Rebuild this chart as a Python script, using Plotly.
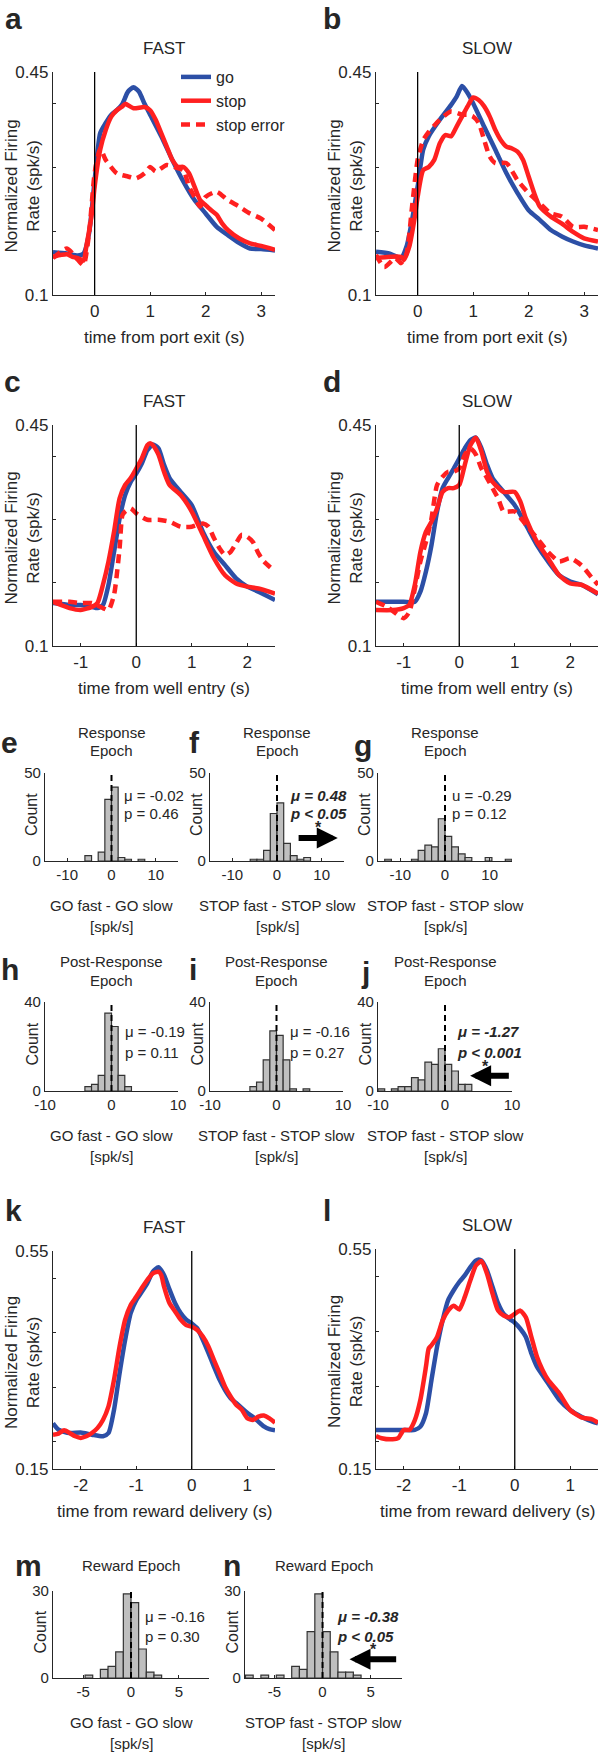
import plotly.graph_objects as go

W, H = 610, 1752
BLUE = "#2c4fa6"
RED = "#ff2020"
AX = "#262626"
BARC = "#bfbfbf"
FONT = "Liberation Sans, Arial, Helvetica, sans-serif"

# ---------------- data: firing-rate curves ----------------
# a: FAST, time from port exit
a_go_t = [-0.75,-0.5,-0.3,-0.2,-0.1,0,0.1,0.2,0.3,0.4,0.5,0.6,0.7,0.8,0.9,1.0,1.2,1.4,1.6,1.8,2.0,2.2,2.4,2.6,2.8,3.0,3.25]
a_go_v = [0.167,0.165,0.162,0.165,0.197,0.28,0.354,0.37,0.383,0.39,0.40,0.419,0.426,0.419,0.40,0.383,0.349,0.312,0.278,0.249,0.228,0.207,0.194,0.182,0.173,0.172,0.17]
a_stop_t = [-0.75,-0.6,-0.5,-0.4,-0.3,-0.2,-0.15,-0.05,0,0.1,0.2,0.3,0.4,0.5,0.55,0.7,0.9,1.0,1.1,1.2,1.3,1.4,1.5,1.6,1.7,1.8,1.9,2.0,2.1,2.2,2.3,2.4,2.6,2.8,3.0,3.25]
a_stop_v = [0.16,0.163,0.164,0.16,0.158,0.154,0.176,0.228,0.27,0.328,0.359,0.38,0.39,0.396,0.40,0.393,0.395,0.39,0.375,0.354,0.333,0.312,0.301,0.301,0.291,0.27,0.249,0.241,0.233,0.226,0.212,0.202,0.189,0.181,0.177,0.171]
a_err_t = [-0.75,-0.5,-0.3,-0.2,-0.1,0,0.1,0.2,0.4,0.6,0.75,0.9,1.0,1.1,1.3,1.5,1.6,1.7,1.8,1.9,2.0,2.2,2.4,2.6,2.8,3.0,3.25]
a_err_v = [0.158,0.173,0.155,0.147,0.197,0.291,0.33,0.312,0.291,0.286,0.283,0.291,0.301,0.294,0.304,0.299,0.296,0.27,0.254,0.239,0.254,0.262,0.249,0.239,0.228,0.22,0.202]

# b: SLOW, time from port exit
b_go_t = [-0.75,-0.5,-0.3,-0.2,-0.1,0,0.1,0.2,0.4,0.6,0.7,0.8,0.9,1.0,1.2,1.4,1.6,1.8,2.0,2.2,2.4,2.6,2.8,3.0,3.25]
b_go_v = [0.168,0.165,0.158,0.176,0.218,0.27,0.328,0.349,0.375,0.398,0.411,0.428,0.417,0.401,0.364,0.328,0.291,0.26,0.233,0.218,0.202,0.192,0.184,0.178,0.173]
b_stop_t = [-0.75,-0.5,-0.3,-0.25,-0.15,-0.05,0,0.1,0.2,0.3,0.4,0.5,0.6,0.7,0.8,0.9,1.0,1.1,1.2,1.3,1.4,1.5,1.6,1.7,1.8,1.9,2.0,2.1,2.2,2.4,2.6,2.8,3.0,3.25]
b_stop_v = [0.158,0.16,0.16,0.155,0.176,0.223,0.254,0.296,0.301,0.312,0.338,0.351,0.349,0.364,0.38,0.396,0.41,0.406,0.396,0.38,0.359,0.343,0.333,0.33,0.325,0.312,0.286,0.26,0.239,0.223,0.212,0.199,0.189,0.184]
b_err_t = [-0.75,-0.6,-0.4,-0.3,-0.2,-0.1,0,0.1,0.2,0.4,0.6,0.8,0.9,1.0,1.1,1.2,1.3,1.4,1.6,1.8,2.0,2.2,2.4,2.6,2.8,3.0,3.25]
b_err_v = [0.163,0.144,0.158,0.15,0.165,0.239,0.312,0.343,0.356,0.375,0.388,0.383,0.383,0.38,0.37,0.343,0.317,0.307,0.307,0.28,0.26,0.244,0.228,0.223,0.207,0.207,0.202]

# c: FAST, time from well entry
c_go_t = [-1.5,-1.2,-1.0,-0.8,-0.7,-0.6,-0.5,-0.4,-0.3,-0.2,-0.1,0,0.1,0.2,0.3,0.4,0.5,0.6,0.8,1.0,1.2,1.4,1.6,1.8,2.0,2.2,2.5]
c_go_v = [0.168,0.165,0.165,0.162,0.16,0.165,0.197,0.249,0.302,0.339,0.36,0.373,0.389,0.41,0.419,0.413,0.387,0.366,0.344,0.323,0.281,0.249,0.228,0.207,0.194,0.186,0.173]
c_stop_t = [-1.5,-1.2,-1.0,-0.8,-0.7,-0.6,-0.5,-0.4,-0.3,-0.2,-0.1,0,0.1,0.2,0.25,0.3,0.4,0.5,0.6,0.8,1.0,1.2,1.4,1.6,1.8,2.0,2.2,2.5]
c_stop_v = [0.17,0.16,0.157,0.162,0.168,0.197,0.234,0.281,0.334,0.355,0.366,0.381,0.397,0.418,0.421,0.418,0.403,0.376,0.355,0.339,0.313,0.276,0.239,0.212,0.199,0.194,0.191,0.183]
c_err_t = [-1.5,-1.2,-1.0,-0.8,-0.6,-0.5,-0.4,-0.3,-0.25,-0.2,-0.1,0,0.2,0.4,0.6,0.8,1.0,1.2,1.3,1.4,1.5,1.6,1.7,1.8,1.9,2.0,2.1,2.2,2.3,2.5]
c_err_v = [0.17,0.17,0.168,0.168,0.16,0.157,0.181,0.255,0.307,0.313,0.318,0.31,0.3,0.3,0.297,0.289,0.289,0.294,0.289,0.271,0.255,0.244,0.249,0.263,0.276,0.273,0.265,0.247,0.234,0.218]

# d: SLOW, time from well entry
d_go_t = [-1.5,-1.2,-1.0,-0.8,-0.7,-0.6,-0.5,-0.4,-0.3,-0.2,-0.1,0,0.1,0.2,0.3,0.4,0.5,0.6,0.8,1.0,1.2,1.4,1.6,1.8,2.0,2.2,2.5]
d_go_v = [0.17,0.17,0.17,0.17,0.186,0.218,0.26,0.313,0.35,0.366,0.381,0.397,0.413,0.426,0.43,0.413,0.387,0.366,0.344,0.323,0.292,0.26,0.234,0.212,0.202,0.197,0.182]
d_stop_t = [-1.5,-1.2,-1.0,-0.9,-0.8,-0.7,-0.6,-0.5,-0.4,-0.3,-0.2,-0.1,0,0.1,0.2,0.3,0.4,0.5,0.6,0.8,1.0,1.1,1.2,1.4,1.6,1.8,2.0,2.2,2.5]
d_stop_v = [0.157,0.157,0.16,0.165,0.197,0.249,0.281,0.297,0.318,0.344,0.35,0.35,0.355,0.387,0.418,0.43,0.408,0.376,0.36,0.344,0.344,0.329,0.302,0.265,0.239,0.212,0.199,0.197,0.183]
d_err_t = [-1.5,-1.3,-1.0,-0.9,-0.8,-0.7,-0.6,-0.5,-0.4,-0.3,-0.2,-0.1,0,0.1,0.2,0.3,0.4,0.5,0.6,0.7,0.8,1.0,1.2,1.4,1.6,1.8,2.0,2.2,2.4,2.5]
d_err_v = [0.17,0.162,0.144,0.154,0.191,0.234,0.265,0.302,0.355,0.368,0.376,0.376,0.381,0.403,0.413,0.403,0.381,0.366,0.35,0.334,0.313,0.313,0.292,0.271,0.249,0.234,0.239,0.228,0.207,0.197]

# k: FAST, time from reward delivery
k_go_t = [-2.5,-2.4,-2.2,-2.0,-1.8,-1.6,-1.5,-1.4,-1.3,-1.2,-1.1,-1.0,-0.9,-0.8,-0.7,-0.6,-0.5,-0.4,-0.3,-0.2,-0.1,0,0.1,0.2,0.3,0.4,0.5,0.6,0.7,0.8,0.9,1.0,1.1,1.2,1.3,1.4,1.5]
k_go_v = [0.234,0.222,0.216,0.217,0.213,0.21,0.216,0.259,0.326,0.387,0.436,0.46,0.475,0.491,0.512,0.52,0.506,0.479,0.454,0.436,0.424,0.417,0.408,0.387,0.363,0.338,0.314,0.295,0.28,0.271,0.262,0.253,0.246,0.237,0.228,0.223,0.221]
k_stop_t = [-2.5,-2.4,-2.3,-2.2,-2.1,-2.0,-1.9,-1.8,-1.7,-1.6,-1.5,-1.4,-1.3,-1.2,-1.1,-1.0,-0.9,-0.8,-0.7,-0.6,-0.55,-0.5,-0.4,-0.3,-0.2,-0.1,0,0.1,0.2,0.3,0.4,0.5,0.6,0.7,0.8,0.9,1.0,1.1,1.2,1.3,1.4,1.5]
k_stop_v = [0.213,0.215,0.221,0.216,0.21,0.207,0.21,0.216,0.225,0.24,0.265,0.314,0.375,0.424,0.451,0.466,0.482,0.497,0.509,0.512,0.506,0.485,0.454,0.439,0.424,0.414,0.411,0.405,0.393,0.375,0.35,0.326,0.301,0.283,0.268,0.259,0.243,0.24,0.246,0.248,0.243,0.235]

# l: SLOW, time from reward delivery
l_go_t = [-2.5,-2.2,-2.0,-1.8,-1.7,-1.6,-1.5,-1.4,-1.3,-1.2,-1.1,-1.0,-0.9,-0.8,-0.7,-0.65,-0.6,-0.5,-0.4,-0.3,-0.2,-0.1,0,0.1,0.2,0.3,0.4,0.6,0.8,1.0,1.2,1.4,1.5]
l_go_v = [0.221,0.221,0.221,0.221,0.227,0.251,0.312,0.372,0.42,0.457,0.475,0.49,0.502,0.517,0.529,0.531,0.529,0.511,0.481,0.451,0.432,0.423,0.416,0.405,0.39,0.36,0.336,0.306,0.276,0.257,0.245,0.236,0.233]
l_stop_t = [-2.5,-2.4,-2.2,-2.1,-2.0,-1.9,-1.8,-1.7,-1.6,-1.55,-1.5,-1.4,-1.3,-1.2,-1.1,-1.0,-0.9,-0.8,-0.7,-0.6,-0.5,-0.4,-0.3,-0.2,-0.1,0,0.1,0.2,0.3,0.4,0.5,0.6,0.8,1.0,1.2,1.4,1.5]
l_stop_v = [0.21,0.206,0.204,0.206,0.221,0.221,0.239,0.276,0.336,0.369,0.375,0.39,0.42,0.438,0.447,0.44,0.463,0.493,0.52,0.528,0.505,0.469,0.438,0.429,0.426,0.432,0.438,0.426,0.39,0.354,0.33,0.312,0.288,0.257,0.244,0.24,0.234]

# ---------------- data: histograms (bin centres, counts) ----------------
e_x = [-5.25,-2.25,-0.75,0.75,2.25,3.75,6.75]
e_n = [3,5,35,42,2,1,1]
f_x = [-5.25,-3.75,-2.25,-0.75,0.75,2.25,3.75,5.25,6.75]
f_n = [1,1,6,27,33,10,3,1,2]
g_x = [-12.75,-6.75,-5.25,-3.75,-2.25,-0.75,0.75,2.25,3.75,5.25,9.75,14.25]
g_n = [1,1,6,9,8,24,14,8,4,2,2,1]
h_x = [-3.5,-2.5,-1.5,-0.5,0.5,1.5,2.5]
h_n = [2,3,7,35,29,7,2]
i_x = [-3.5,-2.5,-1.5,-0.5,0.5,1.5,2.5,4.5]
i_n = [2,4,14,27,25,14,1,1]
j_x = [-9.5,-7.5,-6.5,-5.5,-4.5,-3.5,-2.5,-1.5,-0.5,0.5,1.5,2.5,3.5]
j_n = [1,1,2,2,6,5,13,12,19,12,9,3,3]
m_x = [-4.4,-2.8,-2.0,-1.2,-0.4,0.4,1.2,2.0,2.8]
m_n = [1,3,4,9,29,26,10,2,1]
n_x = [-7.6,-6.0,-4.4,-2.8,-2.0,-1.2,-0.4,0.4,1.2,2.0,2.8,3.6]
n_n = [1,1,1,4,3,16,29,16,9,2,2,1]

hist_stats = {
    "e": ("μ = -0.02", "p = 0.46", False),
    "f": ("μ = 0.48", "p < 0.05", True),
    "g": ("u = -0.29", "p = 0.12", False),
    "h": ("μ = -0.19", "p = 0.11", False),
    "i": ("μ = -0.16", "p = 0.27", False),
    "j": ("μ = -1.27", "p < 0.001", True),
    "m": ("μ = -0.16", "p = 0.30", False),
    "n": ("μ = -0.38", "p < 0.05", True),
}

# ---------------- layout helpers ----------------
fig = go.Figure()
ann, shapes = [], []
layout = dict(width=W, height=H, margin=dict(l=0, r=0, t=0, b=0, autoexpand=False),
              paper_bgcolor="white", plot_bgcolor="white",
              font=dict(family=FONT, color=AX), showlegend=True)


def P(x, y):
    return x / W, 1 - y / H


def text(x, y, s, size, xanchor="center", yanchor="middle", angle=0):
    xx, yy = P(x, y)
    ann.append(dict(x=xx, y=yy, xref="paper", yref="paper", text=s, showarrow=False,
                    textangle=angle, xanchor=xanchor, yanchor=yanchor,
                    font=dict(size=size, color=AX, family=FONT)))


def axes(idx, box, xr, yr, xtv, ytv, ytt, fs):
    x0, y0, x1, y1 = box
    sfx = "" if idx == 1 else str(idx)
    common = dict(showline=True, linecolor=AX, linewidth=1.3, ticks="inside", ticklen=3,
                  tickwidth=1, tickcolor=AX, showgrid=False, zeroline=False, automargin=False,
                  tickfont=dict(size=fs, color=AX, family=FONT), fixedrange=True)
    layout["xaxis" + sfx] = dict(domain=[x0 / W, x1 / W], range=xr, anchor="y" + sfx,
                                 tickvals=xtv, ticktext=[("%g" % v) for v in xtv], **common)
    layout["yaxis" + sfx] = dict(domain=[1 - y1 / H, 1 - y0 / H], range=yr, anchor="x" + sfx,
                                 tickvals=ytv, ticktext=ytt, **common)
    return "x" + sfx, "y" + sfx


def vline(xa, ya, dash=None, width=1.3):
    shapes.append(dict(type="line", xref=xa, yref=ya + " domain", x0=0, x1=0, y0=0, y1=1,
                       line=dict(color="black", width=width, dash=dash), layer="above"))


# ---------------- curve panels ----------------
curve_panels = [
    ("a", (53, 72, 275, 295), [-0.75, 3.25], [0, 1, 2, 3], [0.1, 0.45], "FAST", "time from port exit (s)",
     [(a_go_t, a_go_v), (a_stop_t, a_stop_v), (a_err_t, a_err_v)]),
    ("b", (376, 72, 598, 295), [-0.75, 3.25], [0, 1, 2, 3], [0.1, 0.45], "SLOW", "time from port exit (s)",
     [(b_go_t, b_go_v), (b_stop_t, b_stop_v), (b_err_t, b_err_v)]),
    ("c", (53, 425, 275, 646), [-1.5, 2.5], [-1, 0, 1, 2], [0.1, 0.45], "FAST", "time from well entry (s)",
     [(c_go_t, c_go_v), (c_stop_t, c_stop_v), (c_err_t, c_err_v)]),
    ("d", (376, 425, 598, 646), [-1.5, 2.5], [-1, 0, 1, 2], [0.1, 0.45], "SLOW", "time from well entry (s)",
     [(d_go_t, d_go_v), (d_stop_t, d_stop_v), (d_err_t, d_err_v)]),
    ("k", (53, 1251, 275, 1469), [-2.5, 1.5], [-2, -1, 0, 1], [0.15, 0.55], "FAST", "time from reward delivery (s)",
     [(k_go_t, k_go_v), (k_stop_t, k_stop_v)]),
    ("l", (376, 1249, 598, 1469), [-2.5, 1.5], [-2, -1, 0, 1], [0.15, 0.55], "SLOW", "time from reward delivery (s)",
     [(l_go_t, l_go_v), (l_stop_t, l_stop_v)]),
]

names = ["go", "stop", "stop error"]
styles = [dict(color=BLUE, width=4.5), dict(color=RED, width=4.5), dict(color=RED, width=4.5, dash="9px,6px")]

idx = 1
for (let, box, xr, xtv, yr, title, xlabel, series) in curve_panels:
    if yr[0] == 0.1:
        ytv = [0.1, 0.2, 0.3, 0.4, 0.45]
        ytt = ["0.1", "", "", "", "0.45"]
    else:
        ytv = [0.15, 0.2, 0.3, 0.4, 0.5, 0.55]
        ytt = ["0.15", "", "", "", "", "0.55"]
    xa, ya = axes(idx, box, xr, yr, xtv, ytv, ytt, 17)
    for s_i, (t, v) in enumerate(series):
        fig.add_trace(go.Scatter(x=t, y=v, mode="lines", line=dict(**styles[s_i], shape="spline", smoothing=0.6),
                                 name=names[s_i], showlegend=(let == "a"), xaxis=xa, yaxis=ya,
                                 hoverinfo="skip"))
    vline(xa, ya)
    x0, y0, x1, y1 = box
    text((x0 + x1) / 2, y0 - 24, title, 17)
    text((x0 + x1) / 2, y1 + 42, xlabel, 17)
    text(x0 - 31, (y0 + y1) / 2 + 3, "Normalized Firing<br>Rate (spk/s)", 17, angle=-90)
    idx += 1

# ---------------- histogram panels ----------------
hist_panels = [
    ("e", (45, 773, 178, 861), [-15, 15], [-10, 0, 10], 50, 1.5, e_x, e_n, "Response<br>Epoch", "GO fast - GO slow"),
    ("f", (210, 773, 344, 861), [-15, 15], [-10, 0, 10], 50, 1.5, f_x, f_n, "Response<br>Epoch", "STOP fast - STOP slow"),
    ("g", (378, 773, 512, 861), [-15, 15], [-10, 0, 10], 50, 1.5, g_x, g_n, "Response<br>Epoch", "STOP fast - STOP slow"),
    ("h", (45, 1002, 178, 1091), [-10, 10], [-10, 0, 10], 40, 1.0, h_x, h_n, "Post-Response<br>Epoch", "GO fast - GO slow"),
    ("i", (210, 1002, 343, 1091), [-10, 10], [-10, 0, 10], 40, 1.0, i_x, i_n, "Post-Response<br>Epoch", "STOP fast - STOP slow"),
    ("j", (378, 1002, 512, 1091), [-10, 10], [-10, 0, 10], 40, 1.0, j_x, j_n, "Post-Response<br>Epoch", "STOP fast - STOP slow"),
    ("m", (53, 1591, 209, 1678), [-8.15, 8.15], [-5, 0, 5], 30, 0.8, m_x, m_n, "Reward Epoch", "GO fast - GO slow"),
    ("n", (245, 1591, 402, 1678), [-8.05, 8.25], [-5, 0, 5], 30, 0.8, n_x, n_n, "Reward Epoch", "STOP fast - STOP slow"),
]

stat_pos = {"e": (2.4, 37.4, 27.2), "f": (2.5, 37.4, 27.2), "g": (1.1, 37.4, 27.2),
            "h": (1.75, 26.6, 17.3), "i": (1.75, 26.6, 17.3), "j": (1.5, 26.6, 17.5),
            "m": (1.3, 21.2, 14.3), "n": (1.3, 21.2, 14.3)}
arrows = {"f": (4.5, 13.6, 13, 9.25, 20.4), "j": (9.75, 3.75, 6.9, 6.0, 11.7), "n": (7.8, 2.8, 6.5, 5.25, 10.5)}

for (let, box, xr, xtv, ymax, bw, bx, bn, title, xlabel) in hist_panels:
    xa, ya = axes(idx, box, xr, [0, ymax], xtv, [0, ymax], ["0", str(ymax)], 15)
    fig.add_trace(go.Bar(x=bx, y=bn, width=bw, marker=dict(color=BARC, line=dict(color="#333333", width=1.2)),
                         showlegend=False, xaxis=xa, yaxis=ya, hoverinfo="skip"))
    vline(xa, ya, dash="6px,4px", width=2)
    x0, y0, x1, y1 = box
    cx = (x0 + x1) / 2
    if "<br>" in title:
        t1, t2 = title.split("<br>")
        text(cx, y0 - 41, t1, 15)
        text(cx, y0 - 22, t2, 15)
    else:
        text(cx, y0 - 26, title, 15)
    text(cx, y1 + 44, xlabel, 15)
    text(cx, y1 + 65, "[spk/s]", 15)
    text(x0 - 13, (y0 + y1) / 2 - 2, "Count", 16, angle=-90)
    mu, p, sig = hist_stats[let]
    sx, sy1, sy2 = stat_pos[let]
    for s, sy in ((mu, sy1), (p, sy2)):
        lab = "<b><i>%s</i></b>" % s if sig else s
        ann.append(dict(x=sx, y=sy, xref=xa, yref=ya, text=lab, showarrow=False, xanchor="left",
                        yanchor="middle", font=dict(size=15, color=AX, family=FONT)))
    if let in arrows:
        tx, hx, ay, stx, sty = arrows[let]
        ann.append(dict(x=hx, y=ay, ax=tx, ay=ay, xref=xa, yref=ya, axref=xa, ayref=ya, text="",
                        showarrow=True, arrowhead=2, arrowsize=0.7, arrowwidth=6, arrowcolor="black"))
        ann.append(dict(x=stx, y=sty, xref=xa, yref=ya, text="<b>*</b>", showarrow=False,
                        yshift=-2, font=dict(size=16, color=AX, family=FONT)))
    idx += 1

# ---------------- panel letters ----------------
letters = [("a", 13, 18), ("b", 332, 18), ("c", 12, 382), ("d", 332, 382),
           ("e", 9, 742), ("f", 194, 742), ("g", 363, 745),
           ("h", 10, 970), ("i", 193, 970), ("j", 365, 972),
           ("k", 13, 1210), ("l", 327, 1210), ("m", 28, 1565), ("n", 232, 1565)]
for let, x, y in letters:
    text(x, y, "<b>%s</b>" % let, 30)

layout["annotations"] = ann
layout["shapes"] = shapes
lx, ly = P(176, 60)
layout["legend"] = dict(x=lx, y=ly, xanchor="left", yanchor="top", bgcolor="rgba(0,0,0,0)",
                        font=dict(size=16, color=AX, family=FONT), tracegroupgap=0,
                        itemwidth=30)
fig.update_layout(**layout)
fig.write_html("out.html", config={"displayModeBar": False, "staticPlot": False},
               post_script="document.body.style.margin='0';document.body.style.padding='0';"
                           "document.documentElement.style.overflow='hidden';")
